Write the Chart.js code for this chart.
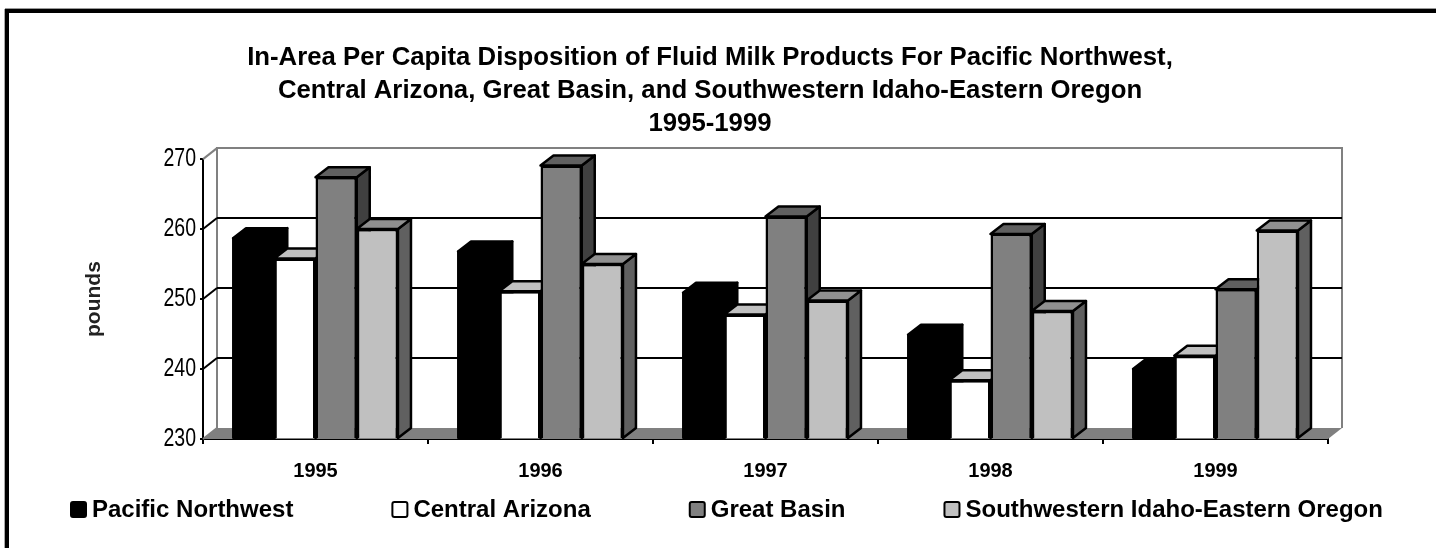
<!DOCTYPE html>
<html><head><meta charset="utf-8">
<style>
html,body{margin:0;padding:0;background:#fff;overflow:hidden}
#wrap{position:absolute;left:0;top:0;width:1436px;height:548px}
#frameTop{position:absolute;left:5px;top:9px;width:1431px;height:4px;background:#000;box-shadow:0 -1px 0 #999}
#frameLeft{position:absolute;left:5px;top:9px;width:4px;height:539px;background:#000;box-shadow:-1px 0 0 #aaa}
canvas{position:absolute;left:0;top:0}
</style>
<script src="https://cdn.jsdelivr.net/npm/chart.js@4"></script>
</head><body>
<div id="wrap"><div id="frameTop"></div><div id="frameLeft"></div><canvas id="c" width="1436" height="548"></canvas></div>
<script>
const categories = ['1995','1996','1997','1998','1999'];
const pacificNorthwest = [258.7, 256.8, 250.9, 244.9, 240.0];
const centralArizona = [255.8, 251.1, 247.8, 238.4, 241.9];
const greatBasin = [267.4, 269.1, 261.8, 259.3, 251.4];
const southwesternIdaho = [260.0, 255.0, 249.8, 248.3, 259.8];
const titleLines = ['In-Area Per Capita Disposition of Fluid Milk Products For Pacific Northwest,',
  'Central Arizona, Great Basin, and Southwestern Idaho-Eastern Oregon','1995-1999'];
const yTicks = [230,240,250,260,270];

const WALL = {dx:14, dy:-11};
const BAR = {dx:13, dy:-10};
const faces = [
  {front:'#000000', top:'#000000', side:'#000000'},
  {front:'#ffffff', top:'#c0c0c0', side:'#808080'},
  {front:'#808080', top:'#606060', side:'#404040'},
  {front:'#c0c0c0', top:'#909090', side:'#606060'}
];

function poly(ctx, pts, fill, stroke, lw){
  ctx.beginPath();
  pts.forEach((p,i)=> i?ctx.lineTo(p[0],p[1]):ctx.moveTo(p[0],p[1]));
  ctx.closePath();
  if(fill){ctx.fillStyle=fill;ctx.fill();}
  if(stroke){ctx.strokeStyle=stroke;ctx.lineWidth=lw||2;ctx.lineJoin='round';ctx.stroke();}
}
const depthPlugin = {
  id:'depth',
  afterLayout(chart){
    chart.titleBlock.left=92; chart.titleBlock.right=1328;
    const s=chart.scales.y;
    if(!s.$narrow){
      s.$narrow=true;
      const orig=s.drawLabels.bind(s);
      s.drawLabels=function(area){
        const c=chart.ctx,x0=196;
        c.save();c.translate(x0,0);c.scale(0.78,1);c.translate(-x0,0);orig(area);c.restore();
      };
    }
  },
  beforeDatasetsDraw(chart){
    const {ctx,scales:{x,y}}=chart;
    const L=x.left,R=x.right,B=y.getPixelForValue(yTicks[0]),T=y.getPixelForValue(yTicks[yTicks.length-1]);
    ctx.save();
    poly(ctx,[[L,B],[L+WALL.dx,B+WALL.dy],[R+WALL.dx,B+WALL.dy],[R,B]],'#808080');
    ctx.strokeStyle='#808080';ctx.lineWidth=2;ctx.lineCap='butt';
    ctx.beginPath();
    ctx.moveTo(L+WALL.dx,B+WALL.dy);ctx.lineTo(L+WALL.dx,T+WALL.dy);
    ctx.lineTo(R+WALL.dx,T+WALL.dy);ctx.lineTo(R+WALL.dx,B+WALL.dy);ctx.stroke();
    yTicks.forEach(v=>{
      const py=y.getPixelForValue(v);
      const top=v===yTicks[yTicks.length-1], bot=v===yTicks[0];
      ctx.strokeStyle=top||bot?'#808080':'#000';ctx.lineWidth=2;
      ctx.beginPath();ctx.moveTo(L,py);ctx.lineTo(L+WALL.dx,py+WALL.dy);ctx.stroke();
      if(!top&&!bot){
        ctx.strokeStyle='#000';
        ctx.beginPath();ctx.moveTo(L+WALL.dx,py+WALL.dy);ctx.lineTo(R+WALL.dx,py+WALL.dy);ctx.stroke();
      }
    });
    categories.forEach((_,i)=>{
      chart.data.datasets.forEach((ds,d)=>{
        const b=chart.getDatasetMeta(d).data[i];
        const l=b.x-b.width/2,r=b.x+b.width/2,t=b.y,bo=b.base;
        const f=faces[d];
        if(d===0) poly(ctx,[[l,t],[r,t],[r,bo],[l,bo]],f.front,'#000',2);
        poly(ctx,[[r,t],[r+BAR.dx,t+BAR.dy],[r+BAR.dx,bo+BAR.dy],[r,bo]],f.side,'#000',2.5);
        poly(ctx,[[l,t],[l+BAR.dx,t+BAR.dy],[r+BAR.dx,t+BAR.dy],[r,t]],f.top,'#000',2.5);
      });
    });
    ctx.restore();
  },
  afterDraw(chart){
    const ctx=chart.ctx;
    ctx.save();
    ctx.font='bold 24px "Liberation Sans"';
    ctx.textBaseline='middle';ctx.textAlign='left';
    let cx=70;
    chart.data.datasets.forEach((ds,i)=>{
      ctx.beginPath();ctx.roundRect(cx+1,502,15,15,2);
      ctx.fillStyle=faces[i].front;ctx.fill();
      ctx.strokeStyle='#000';ctx.lineWidth=2;ctx.stroke();
      ctx.fillStyle='#000';ctx.fillText(ds.label,cx+22,510);
      cx+=22+ctx.measureText(ds.label).width+98;
    });
    ctx.restore();
  }
};
const series=[['Pacific Northwest',pacificNorthwest],['Central Arizona',centralArizona],
  ['Great Basin',greatBasin],['Southwestern Idaho-Eastern Oregon',southwesternIdaho]];
new Chart(document.getElementById('c'),{
  type:'bar',
  data:{labels:categories,datasets:series.map((s,i)=>({
    label:s[0],data:s[1],base:230,backgroundColor:faces[i].front,borderColor:'#000',borderWidth:i===0?0:2.5,
    barPercentage:1,categoryPercentage:0.733
  }))},
  plugins:[depthPlugin],
  options:{
    responsive:false,animation:false,
    layout:{padding:{left:82,right:108,top:26,bottom:55}},
    plugins:{
      tooltip:{enabled:false},
      legend:{display:false},
      title:{display:true,text:titleLines,color:'#000',
        font:{family:'"Liberation Sans"',size:25.75,weight:'bold',lineHeight:1.27},
        padding:{top:16,bottom:19}}
    },
    scales:{
      x:{offset:true,
        border:{color:'#000',width:2},
        grid:{drawOnChartArea:false,offset:true,color:'#000',lineWidth:2,tickLength:5},
        ticks:{color:'#000',font:{family:'"Liberation Sans"',size:20,weight:'bold'},padding:15,maxRotation:0},
        afterFit(s){s.height=54;}
      },
      y:{min:230,max:270,
        border:{color:'#000',width:2},
        grid:{drawOnChartArea:false,color:'#000',lineWidth:2,tickLength:3},
        afterBuildTicks(s){s.ticks=yTicks.map(v=>({value:v}));},
        ticks:{color:'#000',font:{family:'"Liberation Sans"',size:25},padding:4},
        title:{display:true,text:'pounds',color:'#222',font:{family:'"Liberation Sans"',size:21,weight:'bold'},padding:0},
        afterFit(s){s.width=121;}
      }
    }
  }
});
</script>
</body></html>
